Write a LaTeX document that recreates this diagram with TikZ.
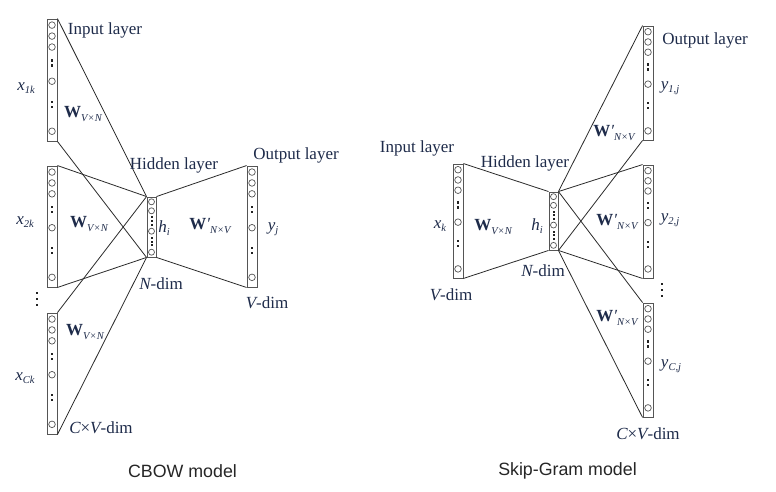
\documentclass[tikz,border=0pt]{standalone}
\usepackage{fontspec}
\setmainfont{Liberation Serif}
\newfontfamily\capfont{Liberation Sans}
\definecolor{labc}{HTML}{1E2B4A}
\definecolor{linec}{HTML}{2B2B2B}
\definecolor{boxc}{HTML}{555555}
\definecolor{dotc}{HTML}{222222}
\newcommand\sbx[1]{\raisebox{-0.45ex}{\fontsize{10.5}{11}\selectfont\itshape #1}}
\newcommand\mkcol[4]{%
  \node[colbox, minimum height=#4pt] (#1) at (#2,#3+#4/2) {};
  \foreach \f in {.05,.14,.23,.51,.92}{\draw[circ] (#2,#3+\f*#4) circle[radius=3.3pt];}
  \foreach \f in {.36,.70}{%
    \fill[dotc] (#2-1.1,#3+\f*#4-3.6) rectangle (#2+1.1,#3+\f*#4-1.4);
    \fill[dotc] (#2-1.1,#3+\f*#4+1.4) rectangle (#2+1.1,#3+\f*#4+3.6);}
}
\newcommand\mkhid[4]{%
  \node[colbox, minimum width=9pt, minimum height=#4pt] (#1) at (#2,#3+#4/2) {};
  \foreach \f in {.08,.23,.57,.92}{\draw[circ] (#2,#3+\f*#4) circle[radius=3pt];}
  \foreach \f in {.40,.745}{%
    \foreach \d in {-3.6,0,3.6}{\fill[dotc] (#2-1,#3+\f*#4+\d-1) rectangle (#2+1,#3+\f*#4+\d+1);}}
}
\newcommand\vdotsat[2]{%
  \foreach \d in {0,6,12}{\fill[dotc] (#1-1.2,#2+\d-1.2) rectangle (#1+1.2,#2+\d+1.2);}}
\newcommand\Wp{{\bfseries W}{\itshape ′}}
\begin{document}
\begin{tikzpicture}[x=1pt,y=-1pt,
  colbox/.style={draw=boxc, line width=0.9pt, minimum width=10pt, inner sep=0pt},
  circ/.style={draw=boxc, line width=0.7pt},
  conn/.style={draw=linec, line width=0.8pt},
  lab/.style={text=labc, inner sep=0pt, font=\fontsize{17}{19}\selectfont},
  captxt/.style={text=black!85, inner sep=0pt, font=\capfont\fontsize{17.8}{20}\selectfont}]
\fill[white] (0,0) rectangle (776,491);
\useasboundingbox (0,0) rectangle (776,491);
% ---------------- CBOW ----------------
\mkcol{c1}{52}{19}{122}
\mkcol{c2}{52}{166}{121}
\mkcol{c3}{52}{313}{121}
\mkhid{hid}{151.5}{197}{60}
\mkcol{out}{252}{166}{121}
\vdotsat{37}{293}
\draw[conn] (c1.north east) -- (hid.north west);
\draw[conn] (c1.south east) -- (hid.south west);
\draw[conn] (c2.north east) -- (hid.north west);
\draw[conn] (c2.south east) -- (hid.south west);
\draw[conn] (c3.north east) -- (hid.north west);
\draw[conn] (c3.south east) -- (hid.south west);
\draw[conn] (hid.north east) -- (out.north west);
\draw[conn] (hid.south east) -- (out.south west);
\node[lab] (inl) at (105,30) {Input layer};
\node[lab] (x1) at (26,88) {\itshape x\sbx{1k}};
\node[lab] (w1) at (83,114) {{\bfseries W}\sbx{V×N}};
\node[lab] (x2) at (25,222) {\itshape x\sbx{2k}};
\node[lab] (w2) at (89,224) {{\bfseries W}\sbx{V×N}};
\node[lab] (x3) at (25,378) {\itshape x\sbx{Ck}};
\node[lab] (w3) at (85,332) {{\bfseries W}\sbx{V×N}};
\node[lab] (cvd) at (101,428) {{\itshape C}×{\itshape V}-dim};
\node[lab] (hl) at (174,165) {Hidden layer};
\node[lab] (hi) at (164,228) {\itshape h\sbx{i}};
\node[lab] (nd) at (161,284) {{\itshape N}-dim};
\node[lab] (wp) at (210,226) {\Wp\sbx{N×V}};
\node[lab] (ol) at (296,155) {Output layer};
\node[lab] (yj) at (273,229) {\itshape y\sbx{j}};
\node[lab] (vd) at (267,303) {{\itshape V}-dim};
\node[captxt] (cbow) at (182.5,471) {CBOW model};
% ---------------- Skip-Gram ----------------
\mkcol{si}{458}{164}{114}
\mkhid{sh}{553.5}{192}{58}
\mkcol{so1}{648}{26}{114}
\mkcol{so2}{648}{165}{113}
\mkcol{so3}{648}{303}{114}
\vdotsat{662}{284}
\draw[conn] (si.north east) -- (sh.north west);
\draw[conn] (si.south east) -- (sh.south west);
\draw[conn] (sh.north east) -- (so1.north west);
\draw[conn] (sh.south east) -- (so1.south west);
\draw[conn] (sh.north east) -- (so2.north west);
\draw[conn] (sh.south east) -- (so2.south west);
\draw[conn] (sh.north east) -- (so3.north west);
\draw[conn] (sh.south east) -- (so3.south west);
\node[lab] (sinl) at (417,148) {Input layer};
\node[lab] (shl) at (525,163) {Hidden layer};
\node[lab] (sxk) at (440,226) {\itshape x\sbx{k}};
\node[lab] (sw) at (493,227) {{\bfseries W}\sbx{V×N}};
\node[lab] (shi) at (537,226) {\itshape h\sbx{i}};
\node[lab] (snd) at (543,271) {{\itshape N}-dim};
\node[lab] (svd) at (451,295) {{\itshape V}-dim};
\node[lab] (sol) at (705,40) {Output layer};
\node[lab] (sy1) at (670,88) {\itshape y\sbx{1,j}};
\node[lab] (swp1) at (614,133) {\Wp\sbx{N×V}};
\node[lab] (swp2) at (617,222) {\Wp\sbx{N×V}};
\node[lab] (sy2) at (670,220) {\itshape y\sbx{2,j}};
\node[lab] (swp3) at (617,318) {\Wp\sbx{N×V}};
\node[lab] (sy3) at (671,366) {\itshape y\sbx{C,j}};
\node[lab] (scvd) at (648,434) {{\itshape C}×{\itshape V}-dim};
\node[captxt] (skip) at (567.5,471) {Skip-Gram model};
\end{tikzpicture}
\end{document}
